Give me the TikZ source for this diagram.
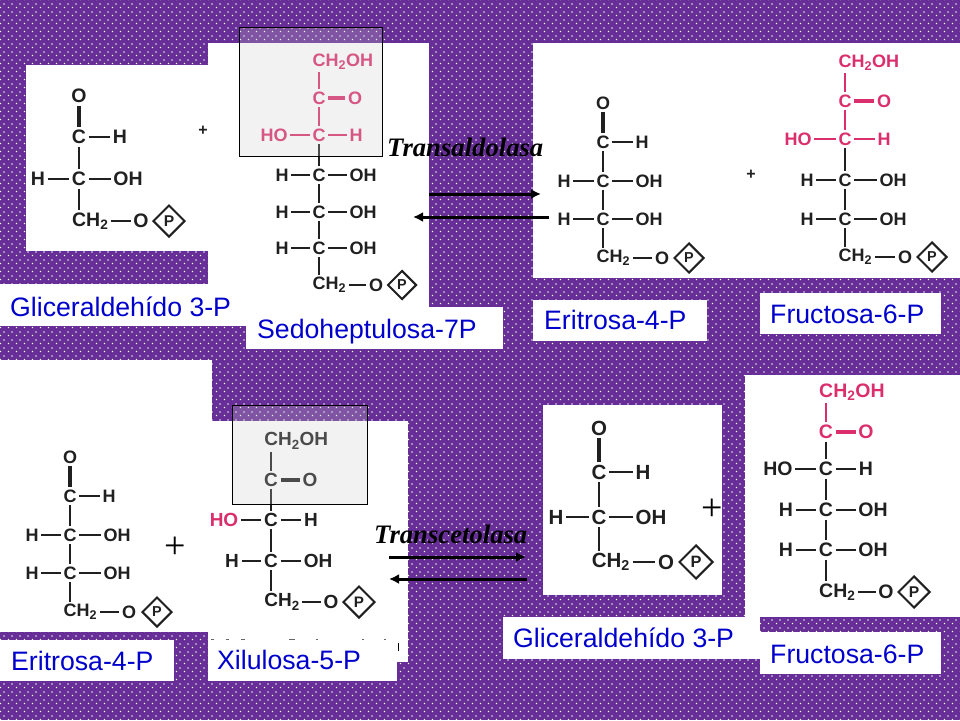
\documentclass[tikz,border=0pt]{standalone}
\usepackage{fontspec}
\setmainfont{Liberation Sans}
\newfontfamily\chem{Liberation Sans}
\newfontfamily\tbi{Liberation Serif}
\newfontfamily\tser{Liberation Serif}
\usetikzlibrary{patterns,shapes.geometric,arrows.meta}
\definecolor{lila}{HTML}{662E96}
\definecolor{ink}{HTML}{202020}
\definecolor{rosa}{HTML}{DA2F6C}
\definecolor{azul}{HTML}{0000CC}
\definecolor{graybox}{HTML}{CCCCCC}
\pgfdeclarepatternformonly{dotgrid}{\pgfpointorigin}{\pgfqpoint{8pt}{8pt}}{\pgfqpoint{8pt}{8pt}}{%
  \pgfpathrectangle{\pgfqpoint{1pt}{1pt}}{\pgfqpoint{1.3pt}{1.3pt}}%
  \pgfpathrectangle{\pgfqpoint{5pt}{5pt}}{\pgfqpoint{1.3pt}{1.3pt}}%
  \pgfusepath{fill}}
\def\fs{19}\def\mc{ink}\def\lc{\mc}\def\psz{15}
\tikzset{
  atom/.style={font=\fontsize{\fs}{\fs}\chem\bfseries, text=\mc, inner sep=2.5pt},
  bond/.style={draw=\mc, line width=1.7pt},
  dbl/.style={draw=\mc, line width=3.4pt},
  tag/.style={font=\fontsize{26.67}{30}\selectfont, text=azul, anchor=base west, inner sep=0pt},
  enzyme/.style={font=\fontsize{26.67}{30}\tbi\bfseries\itshape, text=black, anchor=base west, inner sep=0pt},
  shade/.style={fill=graybox, fill opacity=.25, draw=black, line width=1pt},
  react/.style={draw=black, line width=3pt, -{Latex[length=10pt,width=10pt]}},
  phos/.style={shape=diamond, aspect=1, draw=\mc, line width=2pt, inner sep=0pt,
     font=\fontsize{\psz}{\psz}\chem\bfseries, text=\mc},
  smallplus/.style={font=\fontsize{16}{16}\bfseries, text=ink, inner sep=0pt},
  bigplus/.style={font=\fontsize{38}{38}\tser, text=black, inner sep=0pt},
}
% #1 y of O, #2 y of C, #3 dx of H
\newcommand\aldehyde[3]{%
  \node[atom] (o1) at (0,#1) {O};
  \node[atom] (c1) at (0,#2) {C};
  \node[atom] (h1) at (#3,#2) {H};
  \draw[dbl] (o1) -- (c1);
  \draw[bond] (c1) -- (h1);}
% #1 name, #2 y, #3 dx left, #4 dx right
\newcommand\carb[4]{%
  \node[atom] (#1) at (0,#2) {C};
  \node[atom] (#1l) at (-#3,#2) {H};
  \node[atom] (#1r) at (#4,#2) {OH};
  \draw[bond] (#1l) -- (#1);
  \draw[bond] (#1) -- (#1r);}
\newcommand\carbi[4]{%
  \node[atom] (#1) at (0,#2) {C};
  \node[atom,text=\lc] (#1l) at (-#3,#2) {HO};
  \node[atom] (#1r) at (#4,#2) {H};
  \draw[bond] (#1l) -- (#1);
  \draw[bond] (#1) -- (#1r);}
% #1 y CH2OH, #2 y C=O, #3 dx O
\newcommand\keto[3]{%
  \node[atom,anchor=west] (cho) at ({-0.361*\fs-2.5},#1) {CH\textsubscript{2}OH};
  \node[atom] (c2) at (0,#2) {C};
  \node[atom] (o2) at (#3,#2) {O};
  \draw[bond] (cho.south -| c2) -- (c2);
  \draw[dbl] (c2) -- (o2);}
\newcommand\link[2]{\draw[bond] (#1) -- (#2);}
% #1 previous C, #2 y, #3 dx O, #4 dx diamond, #5 half size
\newcommand\tail[5]{%
  \pgfmathsetmacro\psz{\fs*.8}%
  \node[atom,anchor=west] (ch) at ({-0.361*\fs-2.5},#2) {CH\textsubscript{2}};
  \node[atom] (ot) at (#3,#2) {O};
  \node[phos,minimum size=2*#5] (dia) at (#4,#2) {P};
  \draw[bond] (#1) -- (ch.north -| #1);
  \draw[bond] (ot -| ch.east) -- (ot);}
\newcommand\lab[8]{%
  \fill[white] (#2,#3) rectangle (#4,#5);
  \node[tag] (#1) at (#6,#7) {#8};}
\begin{document}
\begin{tikzpicture}[x=1pt,y=-1pt]
\useasboundingbox (0,0) rectangle (960,720);
\fill[lila] (0,0) rectangle (960,720);
\fill[pattern=dotgrid, pattern color=white] (0,0) rectangle (960,720);
% white panels
\fill[white] (26,65) rectangle (208,251);
\fill[white] (208,43) rectangle (429,307);
\fill[white] (533,43) rectangle (960,278);
\fill[white] (0,360) rectangle (212,421);
\fill[white] (0,421) rectangle (208,632);
\fill[white] (208,421) rectangle (408,662);
\fill[white] (543,405) rectangle (722,595);
\fill[white] (745,375) rectangle (960,617);
% remains of text hidden under the Xilulosa label
\draw[black!60, line width=1pt]
  (211,639)--(214,639) (226,639)--(229,639) (241,639)--(245,639) (289,639)--(295,639)
  (316,639)--(318,639) (362,639)--(364,639) (384,639)--(386,639);
\draw[black, line width=1pt] (398,643)--(398,651);
% labels
\lab{l1}{0}{284}{246}{326}{10}{316}{Gliceraldehído 3-P}
\lab{l2}{246}{307}{503}{349}{257}{338}{Sedoheptulosa-7P}
\lab{l3}{533}{300}{707}{341}{544}{329}{Eritrosa-4-P}
\lab{l4}{760}{293}{941}{334}{770}{323}{Fructosa-6-P}
\lab{l5}{0}{640}{174}{681}{11}{670}{Eritrosa-4-P}
\lab{l6}{208}{640}{397}{681}{217}{669}{Xilulosa-5-P}
\lab{l7}{503}{617}{760}{659}{513}{647}{Gliceraldehído 3-P}
\lab{l8}{760}{632}{941}{674}{770}{663}{Fructosa-6-P}
% top left triose
\begin{scope}[shift={(79,0)},name prefix=a-]
\def\fs{19.5}
\aldehyde{96}{137}{41}
\carb{c3}{179}{41}{49}
\link{c1}{c3}
\tail{c3}{221}{62}{90}{16}
\end{scope}
% sedoheptulose
\begin{scope}[shift={(319,0)},name prefix=b-]
\def\fs{18}
\def\mc{rosa}
\keto{62}{98}{36}
\carbi{c3}{135}{45}{37}
\link{c2}{c3}
\def\mc{ink}
\carb{c4}{175}{37}{44}
\carb{c5}{212}{37}{44}
\carb{c6}{248}{37}{44}
\link{c3}{c4}\link{c4}{c5}\link{c5}{c6}
\tail{c6}{285}{57}{83}{14.5}
\end{scope}
% top right tetrose
\begin{scope}[shift={(603,0)},name prefix=d-]
\def\fs{18}
\aldehyde{103}{142}{39}
\carb{c3}{181}{39}{46}
\carb{c4}{219}{39}{46}
\link{c1}{c3}\link{c3}{c4}
\tail{c4}{258}{59}{86}{15}
\end{scope}
% top right fructose
\begin{scope}[shift={(845,0)},name prefix=f-]
\def\fs{18}
\def\mc{rosa}
\keto{63}{101}{39}
\carbi{c3}{139}{47}{39}
\link{c2}{c3}
\def\mc{ink}
\carb{c4}{180}{38}{48}
\carb{c5}{219}{38}{48}
\link{c3}{c4}\link{c4}{c5}
\tail{c5}{257}{60}{87}{15}
\end{scope}
% bottom left tetrose
\begin{scope}[shift={(70,0)},name prefix=g-]
\def\fs{18}
\aldehyde{457}{496}{39}
\carb{c3}{535}{38}{47}
\carb{c4}{573}{38}{47}
\link{c1}{c3}\link{c3}{c4}
\tail{c4}{612}{59}{87}{15}
\end{scope}
% xylulose
\begin{scope}[shift={(271,0)},name prefix=x-]
\def\fs{19}
\keto{441}{480}{39}
\def\lc{rosa}
\carbi{c3}{520}{47}{40}
\link{c2}{c3}
\carb{c4}{561}{39}{47}
\link{c3}{c4}
\tail{c4}{602}{60}{88}{16}
\end{scope}
% bottom triose
\begin{scope}[shift={(599,0)},name prefix=t-]
\def\fs{20.5}
\aldehyde{428}{472}{44}
\carb{c3}{517}{43}{52}
\link{c1}{c3}
\tail{c3}{562}{67}{97}{17}
\end{scope}
% bottom fructose
\begin{scope}[shift={(826,0)},name prefix=u-]
\def\fs{19.5}
\def\mc{rosa}
\keto{392}{432}{40}
\def\mc{ink}
\carbi{c3}{469}{48}{40}
\link{c2}{c3}
\carb{c4}{510}{40}{47}
\carb{c5}{550}{40}{47}
\link{c3}{c4}\link{c4}{c5}
\tail{c5}{592}{60}{88}{16}
\end{scope}
% plus signs
\node[smallplus] (p1) at (203,131) {+};
\node[smallplus] (p2) at (751,175) {+};
\node[bigplus] (p3) at (175,548) {+};
\node[bigplus] (p4) at (712,510) {+};
% translucent boxes
\path[shade] (239,27) rectangle (382,156);
\path[shade] (232,405) rectangle (367,504);
% reactions
\coordinate (r1a) at (429,194); \coordinate (r1b) at (541,194);
\coordinate (r2a) at (549,217); \coordinate (r2b) at (413,217);
\coordinate (r3a) at (389,557); \coordinate (r3b) at (526,557);
\coordinate (r4a) at (527,579); \coordinate (r4b) at (389,579);
\draw[react] (r1a) -- (r1b);
\draw[react] (r2a) -- (r2b);
\draw[react] (r3a) -- (r3b);
\draw[react] (r4a) -- (r4b);
\node[enzyme] (e1) at (387,156) {Transaldolasa};
\node[enzyme] (e2) at (374,543) {Transcetolasa};
\end{tikzpicture}
\end{document}
